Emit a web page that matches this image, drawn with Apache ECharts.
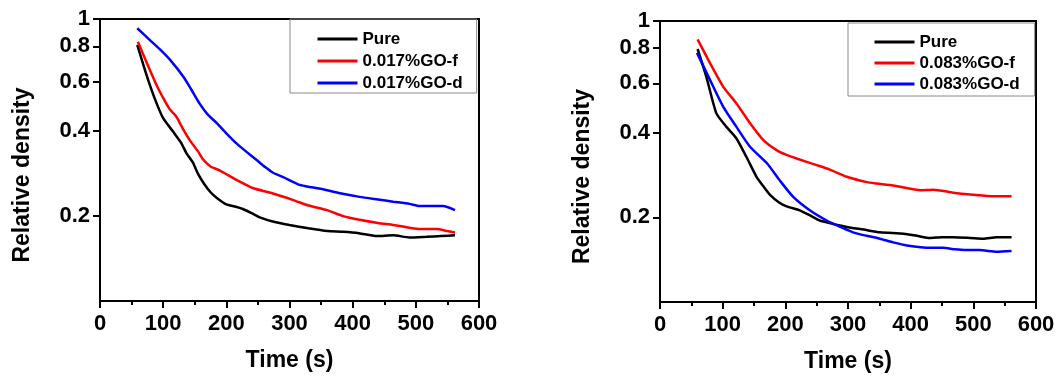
<!DOCTYPE html>
<html>
<head>
<meta charset="utf-8">
<script src="https://cdn.jsdelivr.net/npm/echarts@6/dist/echarts.min.js"></script>
<style>
  html, body { margin: 0; padding: 0; background: #fff; }
  #chart { width: 1061px; height: 378px; }
</style>
</head>
<body>
<div id="chart"></div>
<script>
// y tick values shown on both panels
const yTicks = [0.2, 0.4, 0.6, 0.8, 1];

// left panel (0.017%)
const leftNames = ["Pure", "0.017%GO-f", "0.017%GO-d"];
const leftPureT = [59, 74, 87, 100, 116, 128, 137, 147, 155, 165, 175, 185, 200, 215, 226, 240, 253, 275, 300, 330, 360, 385, 410, 438, 464, 490, 517, 540, 562];
const leftPureV = [0.81, 0.63, 0.52, 0.445, 0.398, 0.365, 0.334, 0.31, 0.283, 0.26, 0.243, 0.232, 0.22, 0.216, 0.212, 0.205, 0.198, 0.191, 0.186, 0.181, 0.177, 0.176, 0.174, 0.17, 0.171, 0.168, 0.169, 0.17, 0.171];
const leftFT = [60, 74, 90, 100, 110, 121, 132, 142, 155, 163, 175, 190, 216, 243, 270, 306, 330, 359, 385, 411, 440, 464, 490, 506, 533, 550, 562];
const leftFV = [0.83, 0.70, 0.58, 0.525, 0.48, 0.45, 0.405, 0.372, 0.34, 0.318, 0.30, 0.29, 0.269, 0.251, 0.242, 0.228, 0.218, 0.21, 0.20, 0.194, 0.189, 0.186, 0.182, 0.18, 0.18, 0.177, 0.175];
const leftDT = [59, 79, 95, 111, 132, 145, 158, 170, 185, 200, 216, 232, 248, 262, 274, 290, 316, 335, 353, 380, 411, 440, 464, 490, 506, 530, 543, 562];
const leftDV = [0.927, 0.842, 0.78, 0.716, 0.624, 0.56, 0.50, 0.46, 0.427, 0.393, 0.362, 0.338, 0.316, 0.298, 0.285, 0.275, 0.258, 0.253, 0.249, 0.241, 0.234, 0.229, 0.225, 0.221, 0.217, 0.217, 0.217, 0.21];

// right panel (0.083%)
const rightNames = ["Pure", "0.083%GO-f", "0.083%GO-d"];
const rightPureT = [60, 74, 90, 106, 122, 138, 154, 165, 176, 190, 202, 223, 240, 255, 275, 298, 325, 351, 389, 410, 431, 450, 468, 495, 516, 537, 561];
const rightPureV = [0.795, 0.633, 0.469, 0.42, 0.382, 0.328, 0.279, 0.258, 0.24, 0.226, 0.219, 0.212, 0.203, 0.195, 0.19, 0.185, 0.181, 0.177, 0.175, 0.172, 0.169, 0.17, 0.17, 0.169, 0.168, 0.17, 0.17];
const rightFT = [60, 80, 101, 122, 144, 165, 186, 200, 218, 250, 271, 298, 330, 346, 372, 395, 415, 436, 468, 500, 532, 561];
const rightFV = [0.86, 0.707, 0.583, 0.509, 0.432, 0.377, 0.347, 0.335, 0.324, 0.307, 0.296, 0.279, 0.267, 0.264, 0.26, 0.254, 0.25, 0.251, 0.245, 0.241, 0.238, 0.238];
const rightDT = [59, 80, 101, 122, 144, 171, 191, 213, 239, 266, 288, 308, 330, 351, 372, 394, 431, 452, 470, 489, 510, 537, 561];
const rightDV = [0.77, 0.616, 0.495, 0.42, 0.356, 0.311, 0.271, 0.236, 0.212, 0.195, 0.185, 0.177, 0.172, 0.168, 0.163, 0.159, 0.156, 0.156, 0.154, 0.153, 0.153, 0.151, 0.152];

const colors = ["#000000", "#ff0000", "#0000ff"];
const font = "'Liberation Sans', Arial, sans-serif";

const pairs = (t, v) => t.map((x, i) => [x, v[i]]);

const chart = echarts.init(document.getElementById("chart"), null, { renderer: "canvas" });

function xAxisFor(gridIndex) {
  return {
    gridIndex,
    type: "value",
    min: 0,
    max: 600,
    interval: 100,
    name: "Time (s)",
    nameLocation: "middle",
    nameGap: 48,
    nameTextStyle: { fontFamily: font, fontWeight: "bold", fontSize: 23, color: "#000" },
    axisLine: { show: true, onZero: false, lineStyle: { color: "#000", width: 2 } },
    axisTick: { show: true, inside: false, length: 7, lineStyle: { color: "#000", width: 2 } },
    minorTick: { show: true, splitNumber: 2, length: 4, lineStyle: { color: "#000", width: 2 } },
    axisLabel: { margin: 12, fontFamily: font, fontWeight: "bold", fontSize: 22, color: "#000" },
    splitLine: { show: false },
    minorSplitLine: { show: false },
  };
}

// hidden log axis carrying the data
function logAxisFor(gridIndex) {
  return { gridIndex, type: "log", logBase: 10, min: 0.1, max: 1, show: false };
}

// visible axis in log10 space for the labelled ticks
function tickAxisFor(gridIndex) {
  const vals = yTicks.map((v) => Math.log10(v));
  return {
    gridIndex,
    type: "value",
    position: "left",
    min: -1,
    max: 0,
    name: "Relative density",
    nameLocation: "middle",
    nameGap: 66,
    nameTextStyle: { fontFamily: font, fontWeight: "bold", fontSize: 23, color: "#000", padding: [0, 30, 0, 0] },
    axisLine: { show: true, onZero: false, lineStyle: { color: "#000", width: 2 } },
    axisTick: { show: true, inside: false, length: 7, customValues: vals, lineStyle: { color: "#000", width: 2 } },
    axisLabel: {
      customValues: vals,
      margin: 10,
      fontFamily: font,
      fontWeight: "bold",
      fontSize: 22,
      color: "#000",
      formatter: (v) => String(parseFloat(Math.pow(10, v).toFixed(1))),
    },
    splitLine: { show: false },
  };
}

function seriesFor(names, data, xIdx, yIdx) {
  return names.map((name, i) => ({
    name,
    type: "line",
    xAxisIndex: xIdx,
    yAxisIndex: yIdx,
    data: data[i],
    symbol: "none",
    smooth: 0.2,
    lineStyle: { color: colors[i], width: 2.5 },
    itemStyle: { color: colors[i] },
  }));
}

function legendFor(names, left, top, padding, gap) {
  return {
    data: names,
    orient: "vertical",
    left,
    top,
    padding,
    itemWidth: 40,
    itemHeight: 14,
    itemGap: gap,
    itemStyle: { opacity: 0 },
    lineStyle: { width: 3 },
    borderColor: "#8a8a8a",
    borderWidth: 1,
    selectedMode: false,
    textStyle: { fontFamily: font, fontWeight: "bold", fontSize: 17, color: "#000", lineHeight: 18 },
  };
}

const option = {
  backgroundColor: "#fff",
  animation: false,
  grid: [
    { left: 100, top: 19, width: 379, height: 282, show: true, borderColor: "#000", borderWidth: 2 },
    { left: 660, top: 21, width: 376, height: 281, show: true, borderColor: "#000", borderWidth: 2 },
  ],
  xAxis: [xAxisFor(0), xAxisFor(1)],
  yAxis: [logAxisFor(0), logAxisFor(1), tickAxisFor(0), tickAxisFor(1)],
  legend: [
    legendFor(leftNames, 290, 19, [11, 14, 1, 26], 4),
    legendFor(rightNames, 848, 23, [10, 15, 3, 25], 3),
  ],
  series: [
    ...seriesFor(leftNames, [pairs(leftPureT, leftPureV), pairs(leftFT, leftFV), pairs(leftDT, leftDV)], 0, 0),
    ...seriesFor(rightNames, [pairs(rightPureT, rightPureV), pairs(rightFT, rightFV), pairs(rightDT, rightDV)], 1, 1),
  ],
};

chart.setOption(option);
</script>
</body>
</html>
